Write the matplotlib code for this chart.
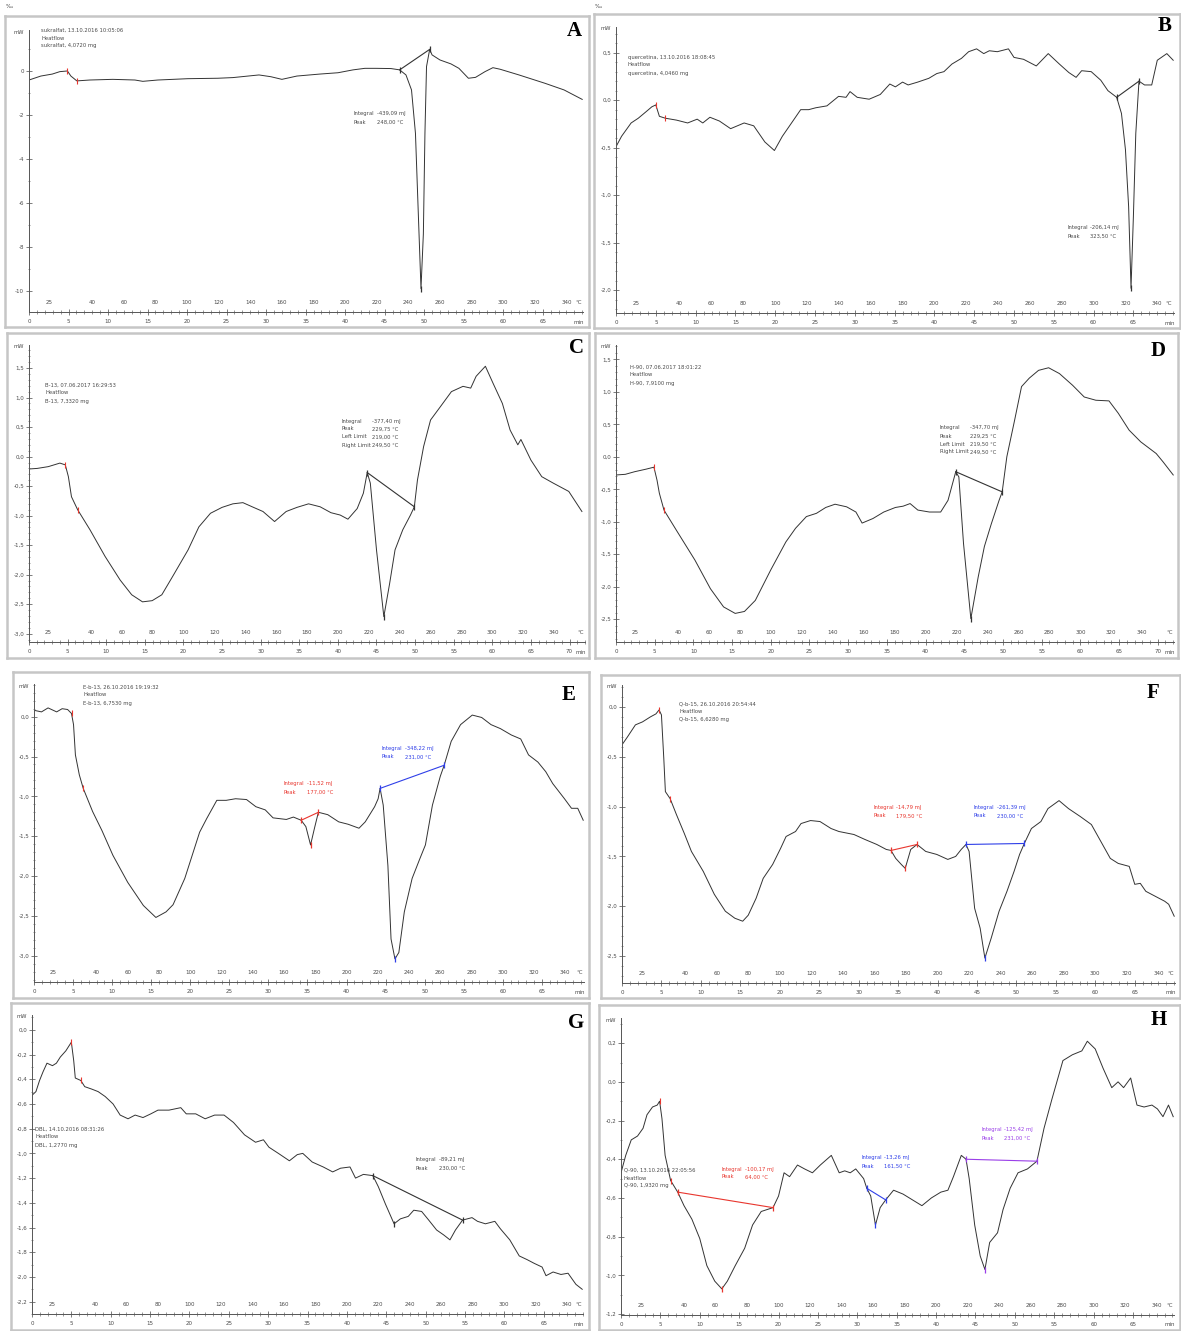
import numpy as np
import matplotlib
matplotlib.use("Agg")
import matplotlib.pyplot as plt
import matplotlib.transforms as mtrans
from matplotlib.ticker import FixedLocator, MultipleLocator

W, H = 1181, 1331

# DSC heat flow curves, time in min, heat flow in mW
# (0-5 min isothermal at 25 °C, then 5 K/min)

# A - sucralfate
a_t = [0, 1.5, 2.95, 3.9, 4.86, 5.3, 6.05, 7.7, 10.6, 13.4,
       14.4, 16.3, 20.1, 23.9, 25.8, 29.1, 30.6, 32.0, 33.9, 36.8,
       39.1, 41.0, 42.5, 43.9, 45.8, 46.9, 47.7, 48.4, 48.9, 49.2,
       49.6, 49.9, 50.1, 50.3, 50.7, 51.0, 52.0, 53.4, 54.4, 55.6,
       56.5, 57.7, 58.7, 59.6, 62.0, 65.3, 67.7, 70.0]
a_mw = [-0.41, -0.23, -0.14, -0.03, 0.00, -0.23, -0.45, -0.41, -0.38, -0.41,
        -0.47, -0.41, -0.35, -0.33, -0.30, -0.18, -0.26, -0.38, -0.23, -0.14,
        -0.08, 0.05, 0.12, 0.12, 0.11, 0.05, -0.18, -0.86, -2.83, -5.86,
        -9.88, -7.40, -2.83, 0.20, 0.98, 0.73, 0.50, 0.32, 0.12, -0.33,
        -0.29, -0.03, 0.15, 0.08, -0.18, -0.56, -0.86, -1.29]
a_marks = [4.86, 6.05]
a_base_t = [46.9, 50.7]
a_base_mw = [0.05, 0.98]

# B - quercetin
b_t = [0, 0.7, 1.9, 2.8, 3.8, 4.5, 5.0, 5.45, 6.2, 7.6,
       9.0, 10.2, 10.9, 11.8, 13.0, 14.4, 16.1, 17.3, 18.7, 19.9,
       20.9, 22.3, 23.2, 24.2, 25.1, 26.5, 27.96, 28.9, 29.4, 30.3,
       31.8, 33.2, 34.4, 35.1, 36.0, 36.7, 37.9, 39.3, 40.3, 41.2,
       42.2, 43.4, 44.3, 45.3, 46.2, 46.9, 47.9, 49.3, 50.0, 51.2,
       52.8, 54.3, 55.7, 56.9, 57.8, 58.5, 59.7, 60.9, 61.8, 62.9,
       63.5, 64.0, 64.4, 64.7, 65.0, 65.3, 65.7, 66.4, 67.3, 68.0,
       69.2, 70.0]
b_mw = [-0.49, -0.38, -0.24, -0.19, -0.12, -0.07, -0.05, -0.17, -0.19, -0.21,
        -0.24, -0.20, -0.24, -0.18, -0.22, -0.30, -0.24, -0.27, -0.44, -0.53,
        -0.38, -0.21, -0.10, -0.10, -0.08, -0.06, 0.04, 0.03, 0.09, 0.03,
        0.01, 0.06, 0.17, 0.14, 0.19, 0.16, 0.19, 0.23, 0.28, 0.30,
        0.38, 0.44, 0.51, 0.54, 0.49, 0.52, 0.51, 0.54, 0.45, 0.43,
        0.36, 0.49, 0.38, 0.29, 0.24, 0.31, 0.30, 0.21, 0.10, 0.03,
        -0.14, -0.52, -1.12, -1.98, -1.22, -0.35, 0.20, 0.16, 0.16, 0.42,
        0.49, 0.42]
b_marks = [5.0, 6.2]
b_base_t = [62.9, 65.7]
b_base_mw = [0.03, 0.20]

# C - B-13
c_t = [0, 1.07, 2.5, 4.0, 4.7, 5.1, 5.5, 6.3, 7.9, 9.85,
       11.8, 13.3, 14.7, 15.95, 17.2, 18.6, 20.6, 22.0, 23.5, 25.0,
       26.4, 27.7, 28.9, 30.3, 31.8, 33.3, 34.7, 36.2, 37.7, 39.1,
       40.3, 41.3, 42.5, 43.3, 43.8, 44.2, 45.0, 45.95, 46.7, 47.4,
       48.4, 49.4, 49.9, 50.3, 51.1, 52.0, 53.3, 54.7, 56.2, 57.2,
       57.9, 59.1, 60.1, 61.3, 62.3, 63.3, 63.7, 65.0, 66.4, 67.9,
       69.9, 71.6]
c_mw = [-0.21, -0.20, -0.17, -0.11, -0.14, -0.34, -0.68, -0.90, -1.24, -1.69,
        -2.09, -2.34, -2.46, -2.44, -2.34, -2.03, -1.58, -1.19, -0.96, -0.86,
        -0.80, -0.78, -0.85, -0.93, -1.10, -0.93, -0.86, -0.80, -0.85, -0.95,
        -0.99, -1.06, -0.88, -0.62, -0.27, -0.45, -1.58, -2.71, -2.15, -1.58,
        -1.24, -0.99, -0.85, -0.40, 0.17, 0.62, 0.85, 1.10, 1.19, 1.16,
        1.36, 1.53, 1.24, 0.90, 0.45, 0.20, 0.29, -0.06, -0.34, -0.45,
        -0.59, -0.93]
c_marks = [4.7, 6.3]
c_base_t = [43.8, 49.9]
c_base_mw = [-0.27, -0.85]

# D - H-90
d_t = [0, 1.2, 2.4, 3.9, 4.9, 5.3, 5.6, 6.2, 7.8, 10.2,
       12.2, 13.9, 15.4, 16.6, 18.0, 20.0, 21.95, 23.2, 24.6, 25.9,
       27.1, 28.3, 29.8, 31.0, 31.8, 33.2, 34.6, 36.1, 37.1, 38.0,
       39.0, 40.5, 41.95, 42.9, 43.9, 44.3, 44.9, 45.85, 46.8, 47.6,
       48.5, 49.5, 49.9, 50.5, 51.5, 52.4, 53.4, 54.6, 55.9, 57.3,
       59.0, 60.5, 62.0, 63.7, 64.9, 66.3, 67.8, 69.8, 70.7, 72.0]
d_mw = [-0.28, -0.27, -0.23, -0.19, -0.16, -0.36, -0.56, -0.82, -1.13, -1.59,
        -2.03, -2.31, -2.41, -2.38, -2.21, -1.74, -1.31, -1.10, -0.92, -0.87,
        -0.78, -0.73, -0.77, -0.85, -1.02, -0.95, -0.85, -0.78, -0.76, -0.72,
        -0.82, -0.85, -0.85, -0.67, -0.23, -0.31, -1.33, -2.49, -1.85, -1.38,
        -1.03, -0.67, -0.54, 0.00, 0.56, 1.08, 1.21, 1.33, 1.37, 1.28,
        1.10, 0.92, 0.87, 0.86, 0.67, 0.41, 0.23, 0.05, -0.08, -0.28]
d_marks = [4.9, 6.2]
d_base_t = [43.9, 49.9]
d_base_mw = [-0.23, -0.54]

# E - E-b-13
e_t = [0, 0.96, 1.8, 2.9, 3.6, 4.3, 4.8, 5.06, 5.3, 5.8,
       6.3, 7.5, 8.7, 10.1, 12.0, 14.0, 15.6, 16.9, 17.8, 19.3,
       21.2, 22.1, 23.4, 24.6, 25.8, 27.2, 28.4, 29.6, 30.6, 32.3,
       33.2, 34.2, 34.8, 35.4, 35.9, 36.4, 37.6, 39.0, 40.2, 41.6,
       42.4, 43.6, 44.05, 44.3, 44.7, 45.3, 45.7, 46.2, 46.7, 47.4,
       48.4, 49.4, 50.1, 51.0, 52.0, 52.5, 53.4, 54.6, 56.1, 57.3,
       58.5, 59.7, 61.1, 62.3, 63.3, 64.5, 65.5, 66.4, 67.9, 68.8,
       69.6, 70.3]
e_mw = [0.08, 0.06, 0.11, 0.06, 0.10, 0.09, 0.04, -0.10, -0.48, -0.73,
        -0.90, -1.19, -1.43, -1.74, -2.08, -2.37, -2.52, -2.45, -2.36, -2.03,
        -1.45, -1.28, -1.05, -1.05, -1.03, -1.04, -1.13, -1.17, -1.27, -1.29,
        -1.26, -1.30, -1.38, -1.61, -1.40, -1.20, -1.23, -1.32, -1.35, -1.40,
        -1.32, -1.13, -1.03, -0.90, -1.11, -1.87, -2.79, -3.04, -2.96, -2.45,
        -2.03, -1.78, -1.61, -1.11, -0.75, -0.61, -0.31, -0.10, 0.02, -0.01,
        -0.10, -0.15, -0.23, -0.28, -0.48, -0.57, -0.69, -0.84, -1.03, -1.15,
        -1.15, -1.30]
e_marks = [4.8, 6.3]
e_base1_t = [34.2, 36.4]
e_base1_mw = [-1.30, -1.20]
e_base2_t = [44.3, 52.5]
e_base2_mw = [-0.90, -0.61]

# F - Q-b-15
f_t = [0, 0.7, 1.7, 2.6, 3.6, 4.3, 4.7, 5.0, 5.3, 5.5,
       6.1, 6.9, 7.9, 8.8, 10.3, 11.7, 13.1, 14.3, 15.3, 16.0,
       17.0, 17.9, 19.1, 20.1, 20.8, 22.0, 22.7, 23.9, 25.1, 26.5,
       27.5, 29.4, 30.8, 32.3, 33.5, 34.1, 34.7, 35.4, 35.9, 36.6,
       37.4, 38.5, 39.9, 41.3, 42.3, 43.0, 43.6, 44.0, 44.7, 45.4,
       46.0, 46.8, 47.8, 48.8, 49.7, 50.4, 51.0, 51.9, 53.1, 54.0,
       55.4, 56.6, 58.1, 59.5, 60.7, 61.9, 62.9, 64.3, 65.0, 65.7,
       66.4, 67.6, 68.8, 69.3, 70.0]
f_mw = [-0.38, -0.30, -0.18, -0.15, -0.10, -0.07, -0.03, -0.08, -0.52, -0.85,
        -0.92, -1.08, -1.27, -1.45, -1.65, -1.88, -2.05, -2.12, -2.15, -2.09,
        -1.92, -1.72, -1.58, -1.42, -1.30, -1.25, -1.17, -1.14, -1.15, -1.22,
        -1.25, -1.28, -1.33, -1.38, -1.43, -1.44, -1.52, -1.58, -1.62, -1.43,
        -1.38, -1.45, -1.48, -1.53, -1.50, -1.43, -1.38, -1.45, -2.02, -2.22,
        -2.52, -2.32, -2.05, -1.85, -1.65, -1.48, -1.37, -1.22, -1.15, -1.02,
        -0.94, -1.02, -1.10, -1.18, -1.35, -1.52, -1.57, -1.60, -1.78, -1.77,
        -1.85, -1.90, -1.95, -1.98, -2.10]
f_marks = [4.7, 6.1]
f_base1_t = [34.1, 37.4]
f_base1_mw = [-1.44, -1.38]
f_base2_t = [43.6, 51.0]
f_base2_mw = [-1.38, -1.37]

# G - DBL
g_t = [0, 0.5, 0.96, 1.4, 1.9, 2.6, 3.1, 3.6, 4.3, 5.0,
       5.3, 5.5, 6.2, 6.7, 7.6, 8.4, 9.3, 10.3, 11.2, 12.2,
       13.1, 14.1, 15.1, 16.0, 17.4, 18.9, 19.6, 20.8, 22.0, 23.2,
       24.4, 25.6, 27.0, 28.4, 29.4, 30.1, 31.3, 32.7, 33.7, 34.4,
       35.6, 37.0, 38.2, 39.2, 40.4, 41.1, 42.1, 43.3, 44.0, 44.9,
       46.0, 46.8, 47.8, 48.5, 49.5, 50.4, 51.4, 52.3, 53.1, 53.8,
       54.7, 55.9, 56.6, 57.6, 58.8, 59.5, 60.7, 61.9, 62.9, 63.8,
       64.8, 65.3, 66.2, 67.2, 68.1, 69.1, 69.9]
g_mw = [-0.53, -0.50, -0.41, -0.34, -0.27, -0.29, -0.27, -0.22, -0.17, -0.10,
        -0.25, -0.39, -0.41, -0.46, -0.48, -0.50, -0.54, -0.60, -0.69, -0.72,
        -0.69, -0.71, -0.68, -0.65, -0.65, -0.63, -0.68, -0.68, -0.72, -0.69,
        -0.69, -0.75, -0.85, -0.91, -0.89, -0.95, -1.00, -1.06, -1.01, -1.00,
        -1.07, -1.11, -1.15, -1.12, -1.11, -1.20, -1.17, -1.18, -1.27, -1.41,
        -1.57, -1.53, -1.51, -1.46, -1.47, -1.54, -1.62, -1.66, -1.70, -1.62,
        -1.54, -1.52, -1.55, -1.57, -1.55, -1.61, -1.70, -1.83, -1.86, -1.89,
        -1.92, -1.99, -1.96, -1.98, -1.97, -2.06, -2.10]
g_marks = [5.0, 6.2]
g_base_t = [43.3, 54.7]
g_base_mw = [-1.18, -1.54]

# H - Q-90
h_t = [0, 0.6, 1.3, 2.1, 2.8, 3.3, 4.0, 4.6, 4.9, 5.2,
       5.6, 6.3, 7.2, 8.0, 9.0, 10.0, 10.9, 11.9, 12.8, 13.5,
       14.5, 15.7, 16.7, 17.8, 19.3, 20.0, 20.7, 21.4, 22.4, 23.3,
       24.3, 25.3, 26.7, 27.7, 28.4, 29.1, 29.8, 30.8, 31.2, 31.7,
       32.3, 32.9, 33.6, 34.6, 35.8, 37.0, 38.2, 39.4, 40.6, 41.5,
       42.2, 43.2, 43.8, 44.2, 44.9, 45.6, 46.2, 46.8, 47.8, 48.5,
       49.4, 50.4, 51.6, 52.8, 53.7, 54.7, 56.1, 57.3, 58.5, 59.2,
       60.2, 61.2, 62.3, 63.1, 63.8, 64.7, 65.5, 66.4, 67.4, 68.1,
       68.8, 69.5, 70.1]
h_mw = [-0.47, -0.38, -0.30, -0.28, -0.24, -0.17, -0.13, -0.12, -0.10, -0.19,
        -0.38, -0.51, -0.57, -0.64, -0.71, -0.81, -0.95, -1.03, -1.07, -1.03,
        -0.95, -0.86, -0.74, -0.67, -0.65, -0.59, -0.47, -0.49, -0.43, -0.45,
        -0.47, -0.43, -0.38, -0.47, -0.46, -0.47, -0.45, -0.50, -0.55, -0.59,
        -0.74, -0.65, -0.61, -0.56, -0.58, -0.61, -0.64, -0.60, -0.57, -0.56,
        -0.49, -0.38, -0.40, -0.50, -0.74, -0.90, -0.97, -0.83, -0.78, -0.66,
        -0.55, -0.47, -0.45, -0.41, -0.24, -0.09, 0.11, 0.14, 0.16, 0.21,
        0.17, 0.07, -0.03, 0.00, -0.03, 0.02, -0.12, -0.13, -0.12, -0.14,
        -0.18, -0.12, -0.18]
h_marks = [4.9, 6.3]
h_base1_t = [7.2, 19.3]
h_base1_mw = [-0.57, -0.65]
h_base2_t = [31.2, 33.6]
h_base2_mw = [-0.55, -0.61]
h_base3_t = [43.8, 52.8]
h_base3_mw = [-0.40, -0.41]

temp_labels = [25] + list(range(40, 341, 20))

RED = "#e8362e"
BLUE = "#2f3fe8"
PURPLE = "#9a3fe8"
CURVE = "#333333"
TXT = "#4a4a4a"

fig = plt.figure(figsize=(W / 100, H / 100), dpi=100)


def rect(x0, y0, x1, y1):
    return [x0 / W, 1 - y1 / H, (x1 - x0) / W, (y1 - y0) / H]


def fxy(x, y):
    return x / W, 1 - y / H


def temp_of(t):
    return 25 + 5 * (t - 5) if t > 5 else 25.0


def fmt(v, dec):
    # decimal comma, no negative zero
    v = round(v, dec) + 0.0
    return f"{v:.{dec}f}".replace(".", ",")


def draw_panel(p):
    box = fig.add_axes(rect(*p["box"]))
    box.set_xticks([])
    box.set_yticks([])
    for s in box.spines.values():
        s.set_color("#c6c6c6")
        s.set_linewidth(1.8)

    x0, y0, x1, y1 = p["area"]
    ax = fig.add_axes(rect(*p["area"]))
    ax.patch.set_alpha(0)
    ax.set_xlim(0, p["xmax"])
    ax.set_ylim(*p["ylim"])
    for side in ("top", "right"):
        ax.spines[side].set_visible(False)
    for side in ("left", "bottom"):
        ax.spines[side].set_color("#555555")
        ax.spines[side].set_linewidth(0.7)

    # time axis (below the line)
    tt = list(range(0, p["tlast"] + 1, 5))
    ax.xaxis.set_major_locator(FixedLocator(tt))
    ax.set_xticklabels([str(v) for v in tt])
    ax.xaxis.set_minor_locator(MultipleLocator(1))
    ax.tick_params(axis="x", which="major", direction="inout", length=5,
                   width=0.5, labelsize=4, pad=2.5, colors=TXT)
    ax.tick_params(axis="x", which="minor", direction="inout", length=2.5,
                   width=0.4, colors=TXT)

    # heat flow axis
    lo, hi = p["ylim"]
    step = p["ystep"]
    yt = list(np.arange(np.ceil(lo / step - 1e-6) * step, hi + 1e-9, step))
    ax.yaxis.set_major_locator(FixedLocator(yt))
    ax.set_yticklabels([fmt(v, p["ydec"]) for v in yt])
    ax.yaxis.set_minor_locator(MultipleLocator(p["yminor"]))
    ax.tick_params(axis="y", which="major", direction="inout", length=4,
                   width=0.5, labelsize=4, pad=1.5, colors=TXT)
    ax.tick_params(axis="y", which="minor", direction="inout", length=2,
                   width=0.4, colors=TXT)

    # temperature row above the time axis
    tr = mtrans.blended_transform_factory(ax.transData, ax.transAxes)
    up = 9.5 / (y1 - y0)
    for T in temp_labels:
        tp = 2.5 if T == 25 else 5 + (T - 25) / 5
        ax.text(tp, up, str(T), transform=tr, fontsize=4, color=TXT,
                ha="center", va="center")
    ax.text(p["xmax"] - 0.6, up, "°C", transform=tr, fontsize=4, color=TXT,
            ha="center", va="center")
    fig.text(*fxy(x1 - 4, y1 + 10), "min", fontsize=4, color=TXT,
             ha="center", va="center")
    fig.text(*fxy(x0 - 5, y0 + 2), "mW", fontsize=3.8, color=TXT,
             ha="right", va="center")

    t, mw = p["t"], p["mw"]
    ax.plot(t, mw, color=CURVE, lw=0.7)
    for tm in p["marks"]:
        ax.plot(tm, mw[t.index(tm)], marker="|", color=RED, ms=4, mew=0.8)

    # evaluated peaks: baseline, limits, peak point and result text
    ta = np.array(t)
    ma = np.array(mw)
    for bt, bm, col, integral, (tx, ty) in p["peaks"]:
        ax.plot(bt, bm, color=col, lw=0.8)
        ax.plot(bt, bm, ls="none", marker="|", color=col, ms=5, mew=0.9)
        sel = (ta > bt[0]) & (ta < bt[1])
        dev = ma[sel] - np.interp(ta[sel], bt, bm)
        k = np.argmin(dev)
        tp, mp = ta[sel][k], ma[sel][k]
        ax.plot(tp, mp, marker="|", color=col, ms=4, mew=0.9)
        lines = [("Integral", integral),
                 ("Peak", fmt(temp_of(tp), 2) + " °C")]
        if p.get("limits"):
            lines.append(("Left Limit", fmt(temp_of(bt[0]), 2) + " °C"))
            lines.append(("Right Limit", fmt(temp_of(bt[1]), 2) + " °C"))
        gap = 30 if p.get("limits") else 23
        txtc = TXT if col == CURVE else col
        for i, (name, val) in enumerate(lines):
            fig.text(*fxy(tx, ty + i * 8), name, fontsize=3.8, color=txtc,
                     ha="left", va="center")
            fig.text(*fxy(tx + gap, ty + i * 8), val, fontsize=3.8,
                     color=txtc, ha="left", va="center")

    hx, hy = p["header_xy"]
    for i, line in enumerate(p["header"]):
        fig.text(*fxy(hx, hy + i * 8), line, fontsize=3.8, color=TXT,
                 ha="left", va="center")

    fig.text(*fxy(*p["letter_xy"]), p["letter"], fontsize=15,
             family="Liberation Serif", weight="bold", color="black",
             ha="center", va="center")


panels = [
    dict(letter="A", box=(5, 16, 589, 327), area=(29, 30, 583, 312),
         xmax=70.1, tlast=65, ylim=(-10.94, 1.86), ystep=2, yminor=1, ydec=0,
         t=a_t, mw=a_mw, marks=a_marks,
         peaks=[(a_base_t, a_base_mw, CURVE, "-439,09 mJ", (354, 114))],
         header=["sukralfat, 13.10.2016 10:05:06", "Heatflow",
                 "sukralfat, 4,0720 mg"],
         header_xy=(41, 30), letter_xy=(574, 31)),
    dict(letter="B", box=(594, 14, 1180, 328), area=(616, 27, 1174, 313),
         xmax=70.1, tlast=65, ylim=(-2.24, 0.77), ystep=0.5, yminor=0.1,
         ydec=1, t=b_t, mw=b_mw, marks=b_marks,
         peaks=[(b_base_t, b_base_mw, CURVE, "-206,14 mJ", (1067, 228))],
         header=["quercetina, 13.10.2016 18:08:45", "Heatflow",
                 "quercetina, 4,0460 mg"],
         header_xy=(628, 57), letter_xy=(1165, 26)),
    dict(letter="C", box=(7, 333, 589, 658), area=(29, 345, 585, 642),
         xmax=72.0, tlast=70, ylim=(-3.14, 1.89), ystep=0.5, yminor=0.1,
         ydec=1, t=c_t, mw=c_mw, marks=c_marks, limits=True,
         peaks=[(c_base_t, c_base_mw, CURVE, "-377,40 mJ", (342, 421))],
         header=["B-13, 07.06.2017 16:29:53", "Heatflow", "B-13, 7,3320 mg"],
         header_xy=(45, 385), letter_xy=(576, 348)),
    dict(letter="D", box=(595, 333, 1178, 658), area=(616, 345, 1174, 642),
         xmax=72.1, tlast=70, ylim=(-2.85, 1.72), ystep=0.5, yminor=0.1,
         ydec=1, t=d_t, mw=d_mw, marks=d_marks, limits=True,
         peaks=[(d_base_t, d_base_mw, CURVE, "-347,70 mJ", (940, 428))],
         header=["H-90, 07.06.2017 18:01:22", "Heatflow", "H-90, 7,9100 mg"],
         header_xy=(630, 367), letter_xy=(1158, 351)),
    dict(letter="E", box=(13, 672, 589, 998), area=(34, 684, 584, 982),
         xmax=70.4, tlast=65, ylim=(-3.33, 0.41), ystep=0.5, yminor=0.1,
         ydec=1, t=e_t, mw=e_mw, marks=e_marks,
         peaks=[(e_base1_t, e_base1_mw, RED, "-11,52 mJ", (284, 784)),
                (e_base2_t, e_base2_mw, BLUE, "-348,22 mJ", (382, 749))],
         header=["E-b-13, 26.10.2016 19:19:32", "Heatflow",
                 "E-b-13, 6,7530 mg"],
         header_xy=(83, 687), letter_xy=(569, 695)),
    dict(letter="F", box=(601, 675, 1180, 998), area=(622, 685, 1175, 983),
         xmax=70.1, tlast=65, ylim=(-2.77, 0.22), ystep=0.5, yminor=0.1,
         ydec=1, t=f_t, mw=f_mw, marks=f_marks,
         peaks=[(f_base1_t, f_base1_mw, RED, "-14,79 mJ", (873, 808)),
                (f_base2_t, f_base2_mw, BLUE, "-261,39 mJ", (974, 808))],
         header=["Q-b-15, 26.10.2016 20:54:44", "Heatflow",
                 "Q-b-15, 6,6280 mg"],
         header_xy=(679, 704), letter_xy=(1153, 693)),
    dict(letter="G", box=(11, 1003, 589, 1330), area=(32, 1015, 583, 1314),
         xmax=70.0, tlast=65, ylim=(-2.30, 0.12), ystep=0.2, yminor=0.1,
         ydec=1, t=g_t, mw=g_mw, marks=g_marks,
         peaks=[(g_base_t, g_base_mw, CURVE, "-89,21 mJ", (416, 1160))],
         header=["DBL, 14.10.2016 08:31:26", "Heatflow", "DBL, 1,2770 mg"],
         header_xy=(35, 1129), letter_xy=(576, 1023)),
    dict(letter="H", box=(599, 1005, 1180, 1330), area=(621, 1018, 1174, 1315),
         xmax=70.2, tlast=65, ylim=(-1.205, 0.33), ystep=0.2, yminor=0.1,
         ydec=1, t=h_t, mw=h_mw, marks=h_marks,
         peaks=[(h_base1_t, h_base1_mw, RED, "-100,17 mJ", (722, 1169)),
                (h_base2_t, h_base2_mw, BLUE, "-13,26 mJ", (861, 1158)),
                (h_base3_t, h_base3_mw, PURPLE, "-125,42 mJ", (981, 1130))],
         header=["Q-90, 13.10.2016 22:05:56", "Heatflow", "Q-90, 1,9320 mg"],
         header_xy=(624, 1170), letter_xy=(1159, 1020)),
]

for p in panels:
    draw_panel(p)

fig.text(*fxy(6, 6), "‰", fontsize=4, color=TXT, ha="left", va="center")
fig.text(*fxy(595, 6), "‰", fontsize=4, color=TXT, ha="left", va="center")

fig.savefig("out.png", dpi=100)
